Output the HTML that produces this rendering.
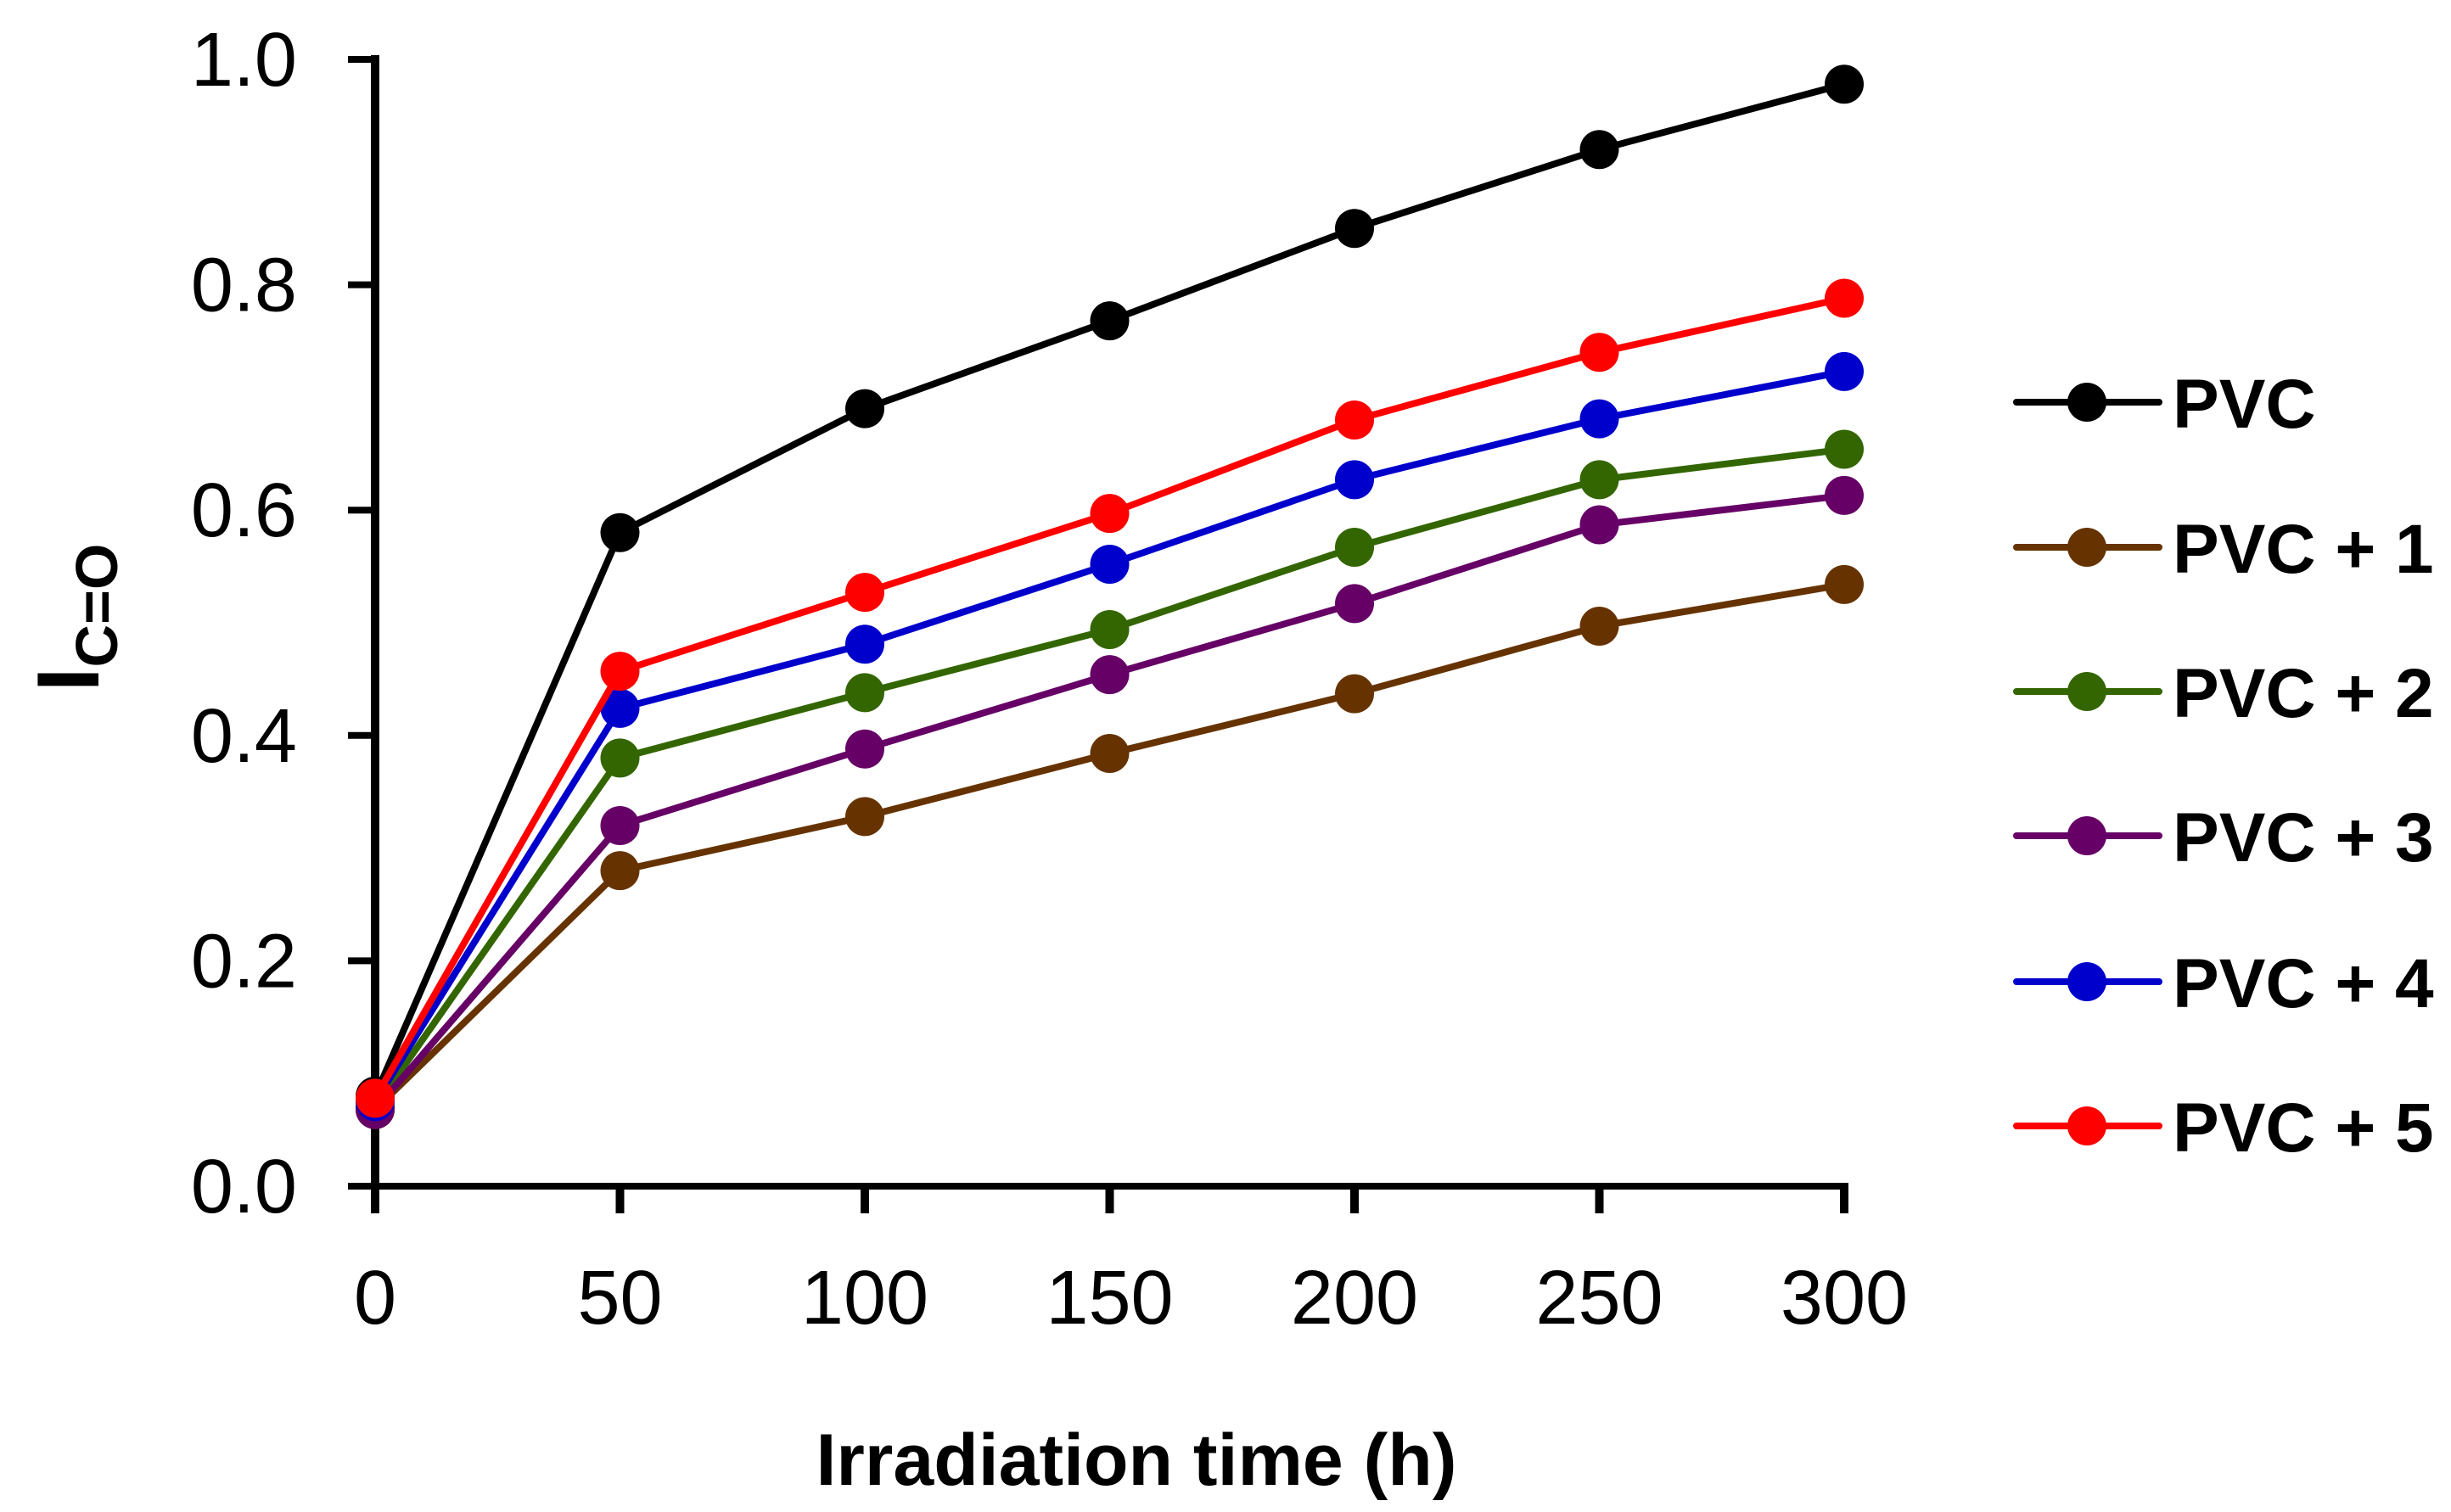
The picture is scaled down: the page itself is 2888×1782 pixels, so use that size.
<!DOCTYPE html>
<html><head><meta charset="utf-8"><style>
html,body{margin:0;padding:0;background:#fff}
svg{display:block}
text{font-family:"Liberation Sans",Arial,sans-serif}
</style></head><body>
<svg id="chart" width="2888" height="1782" viewBox="0 0 2888 1782" xmlns="http://www.w3.org/2000/svg"></svg>
<script>
const xCats = [0, 50, 100, 150, 200, 250, 300];
const yTicks = [0.0, 0.2, 0.4, 0.6, 0.8, 1.0];
const seriesNames = ["PVC", "PVC + 1", "PVC + 2", "PVC + 3", "PVC + 4", "PVC + 5"];
const seriesColors = ["#000000", "#663300", "#336600", "#660066", "#0000cc", "#ff0000"];
const sPVC  = [0.080, 0.580, 0.690, 0.768, 0.850, 0.920, 0.978];
const sPVC1 = [0.068, 0.280, 0.328, 0.384, 0.437, 0.497, 0.534];
const sPVC2 = [0.070, 0.380, 0.438, 0.494, 0.567, 0.627, 0.654];
const sPVC3 = [0.068, 0.320, 0.388, 0.454, 0.517, 0.587, 0.613];
const sPVC4 = [0.075, 0.424, 0.481, 0.552, 0.627, 0.681, 0.723];
const sPVC5 = [0.078, 0.457, 0.527, 0.597, 0.680, 0.740, 0.788];
const seriesData = [sPVC, sPVC1, sPVC2, sPVC3, sPVC4, sPVC5];

const NS = "http://www.w3.org/2000/svg";
const svg = document.getElementById("chart");
const X0 = 442, X1 = 2173, Y0 = 1398, Y1 = 70;
const xs = v => X0 + (v - 0) / 300 * (X1 - X0);
const ys = v => Y0 - v / 1.0 * (Y0 - Y1);
function mk(tag, attrs, parent) {
  const e = document.createElementNS(NS, tag);
  for (const k in attrs) e.setAttribute(k, attrs[k]);
  (parent || svg).appendChild(e);
  return e;
}
const yAxis = mk("line", {x1: X0, y1: Y1 - 5, x2: X0, y2: Y0 + 32, stroke: "#000", "stroke-width": 10});


const xAxis = mk("line", {x1: X0 - 32, y1: Y0, x2: X1 + 5, y2: Y0, stroke: "#000", "stroke-width": 8});


yTicks.forEach(t => {
  const l = mk("line", {x1: X0 - 32, y1: ys(t), x2: X0, y2: ys(t), stroke: "#000", "stroke-width": 8});
  
  
  const tx = mk("text", {x: 350, y: ys(t) + 31, "text-anchor": "end", "font-size": 90});
  tx.textContent = t.toFixed(1);
  
  
});
xCats.forEach(c => {
  const l = mk("line", {x1: xs(c), y1: Y0, x2: xs(c), y2: Y0 + 32, stroke: "#000", "stroke-width": 10});
  
  
  const tx = mk("text", {x: xs(c), y: 1560, "text-anchor": "middle", "font-size": 90});
  tx.textContent = c;
  
  
});
seriesData.forEach((d, i) => {
  const g = mk("g", {});
  
  
  const pts = d.map((v, j) => xs(xCats[j]) + "," + ys(v)).join(" ");
  mk("polyline", {points: pts, fill: "none", stroke: seriesColors[i], "stroke-width": 8, "stroke-linejoin": "round"}, g);
  d.forEach((v, j) => {
    const c = mk("circle", {cx: xs(xCats[j]), cy: ys(v), r: 23, fill: seriesColors[i]}, g);
    
    
  });
});
const legendY = [474, 645, 815, 985, 1157, 1327];
seriesNames.forEach((n, i) => {
  const g = mk("g", {});
  
  
  mk("line", {x1: 2376, y1: legendY[i], x2: 2544, y2: legendY[i], stroke: seriesColors[i], "stroke-width": 8, "stroke-linecap": "round"}, g);
  mk("circle", {cx: 2459, cy: legendY[i], r: 23, fill: seriesColors[i]}, g);
  const t = mk("text", {x: 2560, y: legendY[i] + 30, "font-size": 82, "font-weight": "bold"}, g);
  t.textContent = n;
});
const xt = mk("text", {x: 1339, y: 1750, "text-anchor": "middle", "font-size": 86, "font-weight": "bold"});
xt.textContent = "Irradiation time (h)";


const yt = mk("text", {transform: "translate(116,728) rotate(-90)", "text-anchor": "middle", "font-size": 104, "font-weight": "bold"});


const t1 = mk("tspan", {}, yt); t1.textContent = "I";
const t2 = mk("tspan", {dy: 22, "font-size": 70}, yt); t2.textContent = "C=O";
</script>
</body></html>
